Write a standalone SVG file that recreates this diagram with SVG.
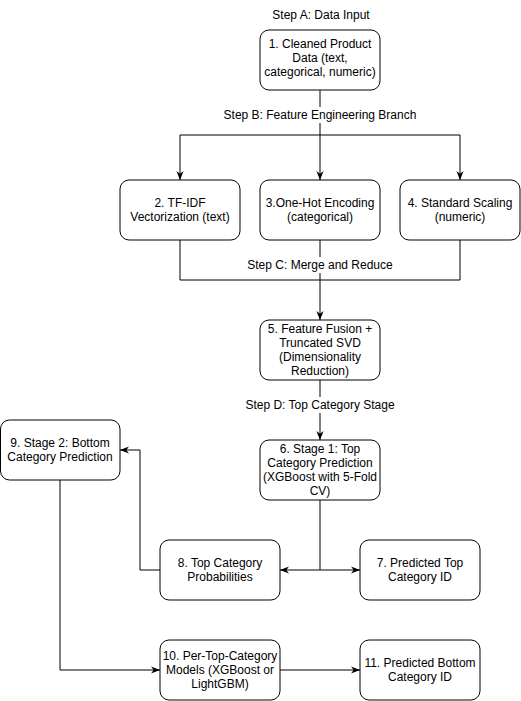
<svg xmlns="http://www.w3.org/2000/svg" width="521" height="701" viewBox="0 0 521 701">
<style>
.n rect{fill:#fff;stroke:#000;stroke-width:1}
text{font-family:"Liberation Sans",Arial,sans-serif;font-size:12px;fill:#000;text-anchor:middle}
.e{fill:none;stroke:#000;stroke-width:1}
.lb{fill:#fff;stroke:none}
</style>
<defs>
<marker id="a" markerUnits="userSpaceOnUse" viewBox="0 0 10 10" markerWidth="9" markerHeight="9" refX="10" refY="5" orient="auto">
<path d="M0,1 L10,5 L0,9 L3,5 z" fill="#000"/>
</marker>
</defs>
<rect width="521" height="701" fill="#fff"/>
<g id="connectors">
<path class="e" d="M320,90 V135 H180 V180" marker-end="url(#a)"/>
<path class="e" d="M320,135 V180" marker-end="url(#a)"/>
<path class="e" d="M320,135 H460 V180" marker-end="url(#a)"/>
<path class="e" d="M180,240 V280 H320 V320" marker-end="url(#a)"/>
<path class="e" d="M320,240 V280"/>
<path class="e" d="M460,240 V280 H320"/>
<path class="e" d="M320,380 V440" marker-end="url(#a)"/>
<path class="e" d="M320,500 V570 H280" marker-end="url(#a)"/>
<path class="e" d="M320,570 H360" marker-end="url(#a)"/>
<path class="e" d="M160,570 H140 V450 H120" marker-end="url(#a)"/>
<path class="e" d="M60,480 V670 H160" marker-end="url(#a)"/>
<path class="e" d="M280,670 H360" marker-end="url(#a)"/>
</g>
<g id="labels">
<text x="321" y="19">Step A: Data Input</text>
<rect class="lb" x="222" y="107" width="196" height="16"/>
<text x="320" y="119">Step B: Feature Engineering Branch</text>
<rect class="lb" x="247" y="257" width="147" height="16"/>
<text x="320" y="269">Step C: Merge and Reduce</text>
<rect class="lb" x="245" y="397" width="151" height="16"/>
<text x="320" y="409">Step D: Top Category Stage</text>
</g>
<g id="n1" class="n"><rect x="260" y="30" width="120" height="60" rx="9"/>
<text x="320" y="48">1. Cleaned Product</text><text x="320" y="62">Data (text,</text><text x="320" y="76">categorical, numeric)</text></g>
<g id="n2" class="n"><rect x="120" y="180" width="120" height="60" rx="9"/>
<text x="180" y="207">2. TF-IDF</text><text x="180" y="221">Vectorization (text)</text></g>
<g id="n3" class="n"><rect x="260" y="180" width="120" height="60" rx="9"/>
<text x="320" y="207">3.One-Hot Encoding</text><text x="320" y="221">(categorical)</text></g>
<g id="n4" class="n"><rect x="400" y="180" width="120" height="60" rx="9"/>
<text x="460" y="207">4. Standard Scaling</text><text x="460" y="221">(numeric)</text></g>
<g id="n5" class="n"><rect x="260" y="320" width="120" height="60" rx="9"/>
<text x="320" y="333">5. Feature Fusion +</text><text x="320" y="347">Truncated SVD</text><text x="320" y="361">(Dimensionality</text><text x="320" y="375">Reduction)</text></g>
<g id="n6" class="n"><rect x="260" y="440" width="120" height="60" rx="9"/>
<text x="320" y="453">6. Stage 1: Top</text><text x="320" y="467">Category Prediction</text><text x="320" y="481">(XGBoost with 5-Fold</text><text x="320" y="495">CV)</text></g>
<g id="n7" class="n"><rect x="360" y="540" width="120" height="60" rx="9"/>
<text x="420" y="567">7. Predicted Top</text><text x="420" y="581">Category ID</text></g>
<g id="n8" class="n"><rect x="160" y="540" width="120" height="60" rx="9"/>
<text x="220" y="567">8. Top Category</text><text x="220" y="581">Probabilities</text></g>
<g id="n9" class="n"><rect x="0.5" y="420" width="119.5" height="60" rx="9"/>
<text x="60" y="447">9. Stage 2: Bottom</text><text x="60" y="461">Category Prediction</text></g>
<g id="n10" class="n"><rect x="160" y="640" width="120" height="60" rx="9"/>
<text x="220" y="660">10. Per-Top-Category</text><text x="220" y="674">Models (XGBoost or</text><text x="220" y="688">LightGBM)</text></g>
<g id="n11" class="n"><rect x="360" y="640" width="120" height="60" rx="9"/>
<text x="420" y="667">11. Predicted Bottom</text><text x="420" y="681">Category ID</text></g>
</svg>
